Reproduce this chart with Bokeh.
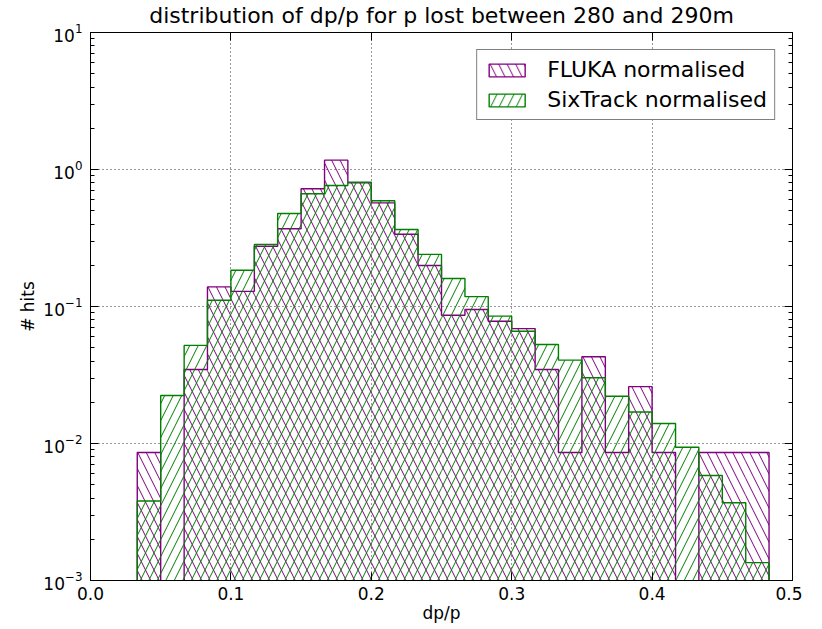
from bokeh.plotting import figure
from bokeh.models import (FixedTicker, PrintfTickFormatter, LinearAxis, LogAxis,
                          Legend, LegendItem, LogTicker, ColumnDataSource,
                          CustomJSTickFormatter)
from bokeh.embed import file_html
from bokeh.resources import INLINE

# ---- data ----
bin_edges = [0.0333, 0.05, 0.0667, 0.0833, 0.1, 0.1167, 0.1333, 0.15, 0.1667,
             0.1833, 0.2, 0.2167, 0.2333, 0.25, 0.2667, 0.2833, 0.3, 0.3167,
             0.3333, 0.35, 0.3667, 0.3833, 0.4, 0.4167, 0.4333, 0.45, 0.4667,
             0.4833]
fluka = [0.0086, 0, 0.0347, 0.139, 0.129, 0.275, 0.369, 0.723, 1.17, 0.80,
         0.571, 0.337, 0.199, 0.0864, 0.095, 0.078, 0.069, 0.0347, 0.0086,
         0.043, 0.0086, 0.026, 0.0086, 0, 0.0086, 0.0086, 0.0086]
sixtrack = [0.0038, 0.0224, 0.052, 0.111, 0.184, 0.284, 0.477, 0.665, 0.764,
            0.808, 0.591, 0.365, 0.240, 0.160, 0.118, 0.085, 0.066, 0.0528,
            0.0406, 0.0302, 0.0221, 0.017, 0.014, 0.0094, 0.00584, 0.00369,
            0.00135]
x_ticks = [0.0, 0.1, 0.2, 0.3, 0.4, 0.5]
series_names = ["FLUKA normalised", "SixTrack normalised"]

PURPLE = "#800080"
GREEN = "#008000"
FLOOR = 1e-6
FONT = "DejaVu Sans"
HATCH_SCALE = 17

p = figure(x_range=(0, 0.5), y_range=(1e-3, 1e1), y_axis_type="log",
           frame_width=702, frame_height=548, output_backend="svg",
           toolbar_location=None,
           title="distribution of dp/p for p lost between 280 and 290m",
           min_border_left=90, min_border_right=10, min_border_top=0,
           min_border_bottom=5)
p.background_fill_color = "white"
p.border_fill_color = "white"
p.outline_line_color = "black"
p.outline_line_width = 1

p.title.align = "center"
p.title.text_font = FONT
p.title.text_font_size = "22px"
p.title.text_font_style = "normal"
p.title.text_color = "black"
p.title.standoff = 0
p.title.offset = 0


def step_outline(edges, vals):
    xs = [edges[0]]
    ys = [FLOOR]
    for i, v in enumerate(vals):
        h = v if v > 0 else FLOOR
        xs += [edges[i], edges[i + 1]]
        ys += [h, h]
    xs.append(edges[-1])
    ys.append(FLOOR)
    return xs, ys


renderers = []
for vals, color, hatch in [(fluka, PURPLE, "\\"), (sixtrack, GREEN, "/")]:
    lefts = [bin_edges[i] for i, v in enumerate(vals) if v > 0]
    rights = [bin_edges[i + 1] for i, v in enumerate(vals) if v > 0]
    tops = [v for v in vals if v > 0]
    src = ColumnDataSource(dict(left=lefts, right=rights, top=tops,
                                bottom=[FLOOR] * len(tops)))
    p.quad(left="left", right="right", top="top", bottom="bottom", source=src,
           fill_color=None, line_color=None, hatch_pattern=hatch,
           hatch_color=color, hatch_scale=HATCH_SCALE, hatch_weight=1)
    xs, ys = step_outline(bin_edges, vals)
    p.line(xs, ys, line_color=color, line_width=1.4)
    # legend-only glyph (placed outside the visible x range)
    lr = p.quad(left=[2.0], right=[2.1], top=[1.0], bottom=[0.1],
                fill_color=None, line_color=color, line_width=1.4,
                hatch_pattern=hatch, hatch_color=color,
                hatch_scale=HATCH_SCALE, hatch_weight=1)
    renderers.append(lr)

legend = Legend(items=[LegendItem(label=n, renderers=[r])
                       for n, r in zip(series_names, renderers)],
                location="top_right")
legend.margin = 17
legend.padding = 7
legend.spacing = 5
legend.glyph_width = 45
legend.glyph_height = 16
legend.label_standoff = 18
legend.label_text_font = FONT
legend.label_text_font_size = "22px"
legend.label_text_color = "black"
legend.border_line_color = "black"
legend.border_line_width = 1.2
legend.background_fill_alpha = 1
p.add_layout(legend)

# axes styling
p.xaxis.ticker = FixedTicker(ticks=x_ticks)
p.xaxis.formatter = PrintfTickFormatter(format="%.1f")
p.xaxis.axis_label = "dp/p"
p.yaxis.axis_label = "# hits"
p.yaxis.ticker = LogTicker(num_minor_ticks=10)
for ax in [p.xaxis[0], p.yaxis[0]]:
    ax.major_label_text_font = FONT
    ax.major_label_text_font_size = "17px"
    ax.major_label_text_color = "black"
    ax.axis_label_text_font = FONT
    ax.axis_label_text_font_size = "17px"
    ax.axis_label_text_font_style = "normal"
    ax.axis_label_text_color = "black"
    ax.axis_line_color = "black"
    ax.major_tick_in = 8
    ax.major_tick_out = 0
    ax.minor_tick_in = 4
    ax.minor_tick_out = 0
    ax.major_tick_line_color = "black"
    ax.minor_tick_line_color = "black"
p.xaxis.major_label_standoff = 6
p.yaxis.major_label_standoff = 8
p.xaxis.minor_tick_line_color = None
p.xaxis.axis_label_standoff = 0
p.yaxis.axis_label_standoff = 2

top_ax = LinearAxis(ticker=FixedTicker(ticks=x_ticks),
                    formatter=CustomJSTickFormatter(code="return ' '"))
right_ax = LogAxis(ticker=LogTicker(num_minor_ticks=10),
                   formatter=CustomJSTickFormatter(code="return ' '"))
for ax in [top_ax, right_ax]:
    ax.major_label_text_font_size = "2px"
    ax.major_label_standoff = 0
    ax.major_tick_in = 8
    ax.major_tick_out = 0
    ax.minor_tick_in = 4
    ax.minor_tick_out = 0
    ax.axis_line_color = "black"
    ax.major_tick_line_color = "black"
    ax.minor_tick_line_color = "black"
top_ax.minor_tick_line_color = None
p.add_layout(top_ax, "above")
p.add_layout(right_ax, "right")

p.xgrid.grid_line_color = "black"
p.ygrid.grid_line_color = "black"
p.xgrid.grid_line_dash = "1 3"
p.ygrid.grid_line_dash = "1 3"
p.xgrid.grid_line_alpha = 0.8
p.ygrid.grid_line_alpha = 0.8
p.xgrid.ticker = FixedTicker(ticks=x_ticks)

open("out.html", "w").write(file_html(p, INLINE))
